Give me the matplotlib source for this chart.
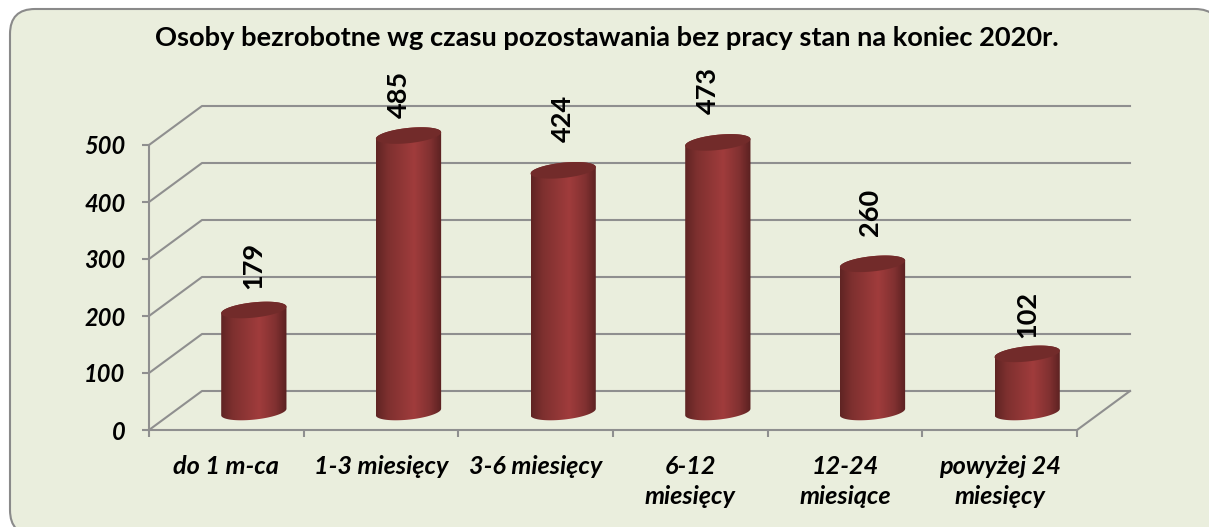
import numpy as np
import matplotlib
matplotlib.use('Agg')
import matplotlib.pyplot as plt
from matplotlib.colors import LinearSegmentedColormap
from matplotlib.patches import FancyBboxPatch, Polygon
from matplotlib.transforms import IdentityTransform

# dane
title = 'Osoby bezrobotne wg czasu pozostawania bez pracy stan na koniec 2020r.'
categories = ['do 1 m-ca', '1-3 miesięcy', '3-6 miesięcy', '6-12\nmiesięcy', '12-24\nmiesiące', 'powyżej 24\nmiesięcy']
values = [179, 485, 424, 473, 260, 102]
y_ticks = [0, 100, 200, 300, 400, 500]

# przesuniecia etykiet w pikselach
label_dx = [-1, -10, 0, -10, -2, 0]
label_dy = [21, 18, 28, 28, 28, 16]

W, H = 1209, 527
plt.rcParams['font.family'] = ['Lato', 'DejaVu Sans']
GREY = '#8f8f8f'

fig = plt.figure(figsize=(W / 100, H / 100), dpi=100, facecolor='white')
fig.patches.append(FancyBboxPatch((35, H - 510), 1160, 476, boxstyle='round,pad=25,rounding_size=25',
                                  fc='#EAEEDD', ec='#8a8a8a', lw=1.5, transform=IdentityTransform(), figure=fig,
                                  zorder=-1))

ax = fig.add_axes([149 / W, (H - 430) / H, 928 / W, 285 / H])
ax.patch.set_visible(False)
ax.set_xlim(0, 6)
ax.set_ylim(0, 500)
x_px = 928 / 6
y_px = 285 / 500

# glebokosc wykresu 3d
depth_x = 53 / x_px
depth_y = 39 / y_px

for v in y_ticks:
    ax.plot([0, depth_x, 6 + depth_x], [v, v + depth_y, v + depth_y], color=GREY, lw=1.5, clip_on=False, zorder=1)
ax.plot([6, 6 + depth_x], [0, depth_y], color=GREY, lw=1.5, clip_on=False, zorder=1)

for s in ['top', 'right']:
    ax.spines[s].set_visible(False)
for s in ['left', 'bottom']:
    ax.spines[s].set_color(GREY)
    ax.spines[s].set_linewidth(1.5)

ax.set_yticks(y_ticks)
ax.set_xticks(np.arange(7))
ax.set_xticklabels([])
ax.tick_params(axis='both', color=GREY, width=1.5, length=5)
ax.tick_params(axis='y', pad=12, labelsize=17)
for t in ax.get_yticklabels():
    t.set_fontweight('bold')
    t.set_fontstyle('italic')

for i, c in enumerate(categories):
    ax.annotate(c, (i + 0.5, 0), xytext=(0, -18), textcoords='offset points', ha='center', va='top',
                fontsize=18.2, fontweight='bold', fontstyle='italic', linespacing=1.36, annotation_clip=False)

# walce
cmap = LinearSegmentedColormap.from_list('cyl', [(0, '#5f2423'), (0.18, '#7e302f'), (0.58, '#a03c3c'),
                                                 (0.82, '#823131'), (1, '#5a2121')])
a, b, tilt = 32.8, 7.6, np.radians(6)
t0 = np.arctan(-(b / a) * np.tan(tilt))
base = depth_y / 2 - 1.5 / y_px


def ellipse(cx, v, t):
    xp = a * np.cos(t) * np.cos(tilt) - b * np.sin(t) * np.sin(tilt)
    yp = a * np.cos(t) * np.sin(tilt) + b * np.sin(t) * np.cos(tilt)
    return np.column_stack((cx + xp / x_px, v + yp / y_px))


for i, v in enumerate(values):
    cx = i + 0.5 + depth_x / 2 + 1 / x_px
    top = base + v
    low = ellipse(cx, base, np.linspace(t0 + np.pi, t0 + 2 * np.pi, 60))
    up = ellipse(cx, top, np.linspace(t0, t0 + np.pi, 60))
    body = Polygon(np.vstack((low, up)), closed=True, transform=ax.transData, fc='none', ec='none')
    half = a * np.cos(t0) * np.cos(tilt) - b * np.sin(t0) * np.sin(tilt)
    im = ax.imshow(np.linspace(0, 1, 256).reshape(1, -1), cmap=cmap, aspect='auto', zorder=3,
                   extent=(cx - half / x_px, cx + half / x_px, 0, top + 30), interpolation='bilinear')
    im.set_clip_box(fig.bbox)
    im.set_clip_path(body)
    cap = ellipse(cx, top, np.linspace(0, 2 * np.pi, 120))
    ax.add_patch(Polygon(cap, closed=True, fc='#722b2a', ec='none', clip_on=False, zorder=4))
    ax.annotate(str(v), (cx, top), xytext=(label_dx[i] * 0.72, label_dy[i] * 0.72), textcoords='offset points',
                rotation=90, ha='center', va='bottom', fontsize=19.5, fontweight='bold', zorder=5,
                annotation_clip=False)

ax.set_xlim(0, 6)
ax.set_ylim(0, 500)

fig.text(606.5 / W, (H - 38) / H, title, ha='center', va='center', fontsize=19.6, fontweight='bold')

fig.savefig('out.png', dpi=100)
